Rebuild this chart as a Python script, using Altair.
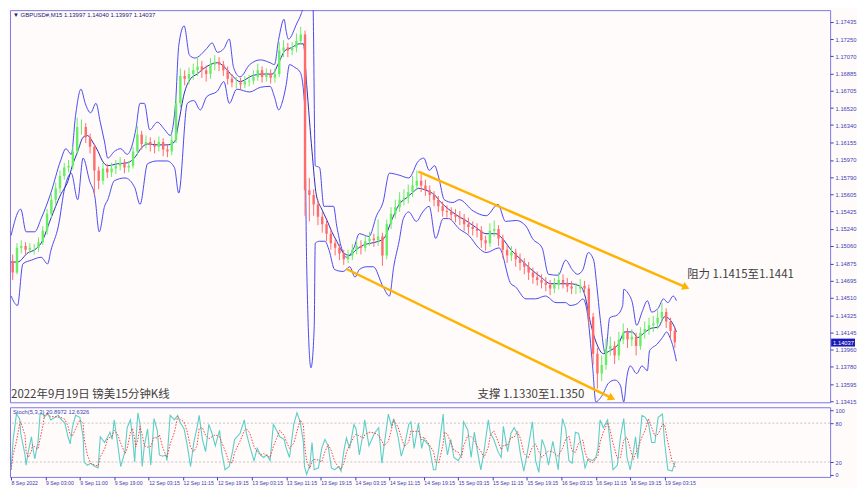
import altair as alt
import pandas as pd

# ---------------- data ----------------
# hourly candles (4 x M15 bars each), GBPUSD
closes = [1.1478,1.1504,1.1506,1.1502,1.1504,1.1504,1.1510,1.1522,1.1540,1.1555,
 1.1567,1.1580,1.1589,1.1591,1.1606,1.1632,1.1632,1.1621,1.1611,1.1586,
 1.1575,1.1588,1.1584,1.1588,1.1591,1.1594,1.1589,1.1591,1.1606,1.1624,
 1.1614,1.1616,1.1613,1.1611,1.1616,1.1608,1.1606,1.1618,1.1657,1.1686,
 1.1683,1.1688,1.1692,1.1696,1.1692,1.1688,1.1698,1.1701,1.1698,1.1692,
 1.1683,1.1679,1.1679,1.1677,1.1680,1.1681,1.1685,1.1692,1.1685,1.1688,
 1.1684,1.1688,1.1713,1.1716,1.1713,1.1716,1.1723,1.1730,1.1565,1.1560,
 1.1550,1.1537,1.1529,1.1519,1.1509,1.1504,1.1498,1.1492,1.1496,1.1502,
 1.1506,1.1504,1.1511,1.1514,1.1512,1.1516,1.1496,1.1529,1.1540,1.1547,
 1.1555,1.1557,1.1563,1.1570,1.1575,1.1570,1.1565,1.1560,1.1555,1.1548,
 1.1543,1.1542,1.1539,1.1537,1.1535,1.1529,1.1526,1.1524,1.1522,1.1512,
 1.1509,1.1522,1.1524,1.1514,1.1502,1.1496,1.1499,1.1492,1.1488,1.1484,
 1.1478,1.1473,1.1470,1.1467,1.1465,1.1461,1.1465,1.1470,1.1467,1.1463,
 1.1461,1.1461,1.1464,1.1461,1.1431,1.1392,1.1371,1.1380,1.1397,1.1400,
 1.1390,1.1407,1.1414,1.1407,1.1410,1.1400,1.1414,1.1418,1.1422,1.1424,
 1.1430,1.1436,1.1426,1.1416,1.1404]
highs = [1.1497,1.1509,1.1512,1.1510,1.1509,1.1508,1.1515,1.1527,1.1545,1.1561,
 1.1573,1.1586,1.1594,1.1597,1.1612,1.1642,1.1640,1.1636,1.1625,1.1614,
 1.1590,1.1594,1.1593,1.1594,1.1597,1.1600,1.1598,1.1596,1.1611,1.1633,
 1.1628,1.1623,1.1621,1.1618,1.1622,1.1620,1.1613,1.1624,1.1664,1.1694,
 1.1692,1.1695,1.1699,1.1706,1.1702,1.1697,1.1705,1.1708,1.1706,1.1702,
 1.1696,1.1688,1.1685,1.1684,1.1686,1.1687,1.1692,1.1699,1.1696,1.1694,
 1.1693,1.1694,1.1722,1.1724,1.1721,1.1722,1.1731,1.1738,1.1734,1.1578,
 1.1566,1.1555,1.1542,1.1533,1.1524,1.1513,1.1508,1.1502,1.1502,1.1508,
 1.1513,1.1512,1.1517,1.1521,1.1519,1.1534,1.1520,1.1534,1.1547,1.1555,
 1.1563,1.1566,1.1571,1.1580,1.1586,1.1582,1.1576,1.1570,1.1564,1.1559,
 1.1553,1.1549,1.1547,1.1545,1.1543,1.1540,1.1536,1.1532,1.1530,1.1527,
 1.1517,1.1530,1.1533,1.1528,1.1518,1.1507,1.1506,1.1503,1.1498,1.1493,
 1.1489,1.1483,1.1479,1.1476,1.1473,1.1470,1.1472,1.1478,1.1476,1.1472,
 1.1469,1.1467,1.1471,1.1469,1.1465,1.1435,1.1398,1.1390,1.1408,1.1410,
 1.1405,1.1415,1.1424,1.1419,1.1418,1.1414,1.1420,1.1426,1.1430,1.1432,
 1.1438,1.1446,1.1440,1.1430,1.1420]
lows = [1.1470,1.1476,1.1498,1.1497,1.1498,1.1497,1.1500,1.1507,1.1518,1.1536,
 1.1550,1.1562,1.1576,1.1584,1.1587,1.1603,1.1624,1.1615,1.1604,1.1560,
 1.1566,1.1571,1.1578,1.1579,1.1582,1.1586,1.1583,1.1584,1.1588,1.1602,
 1.1608,1.1609,1.1606,1.1604,1.1606,1.1601,1.1600,1.1602,1.1615,1.1652,
 1.1676,1.1677,1.1682,1.1686,1.1684,1.1680,1.1683,1.1692,1.1691,1.1686,
 1.1677,1.1674,1.1673,1.1672,1.1673,1.1675,1.1677,1.1681,1.1679,1.1680,
 1.1678,1.1679,1.1685,1.1706,1.1706,1.1708,1.1711,1.1719,1.1538,1.1532,
 1.1538,1.1528,1.1520,1.1511,1.1502,1.1496,1.1491,1.1486,1.1488,1.1491,
 1.1497,1.1497,1.1500,1.1506,1.1505,1.1506,1.1485,1.1492,1.1524,1.1535,
 1.1542,1.1549,1.1551,1.1558,1.1565,1.1563,1.1559,1.1553,1.1548,1.1542,
 1.1537,1.1536,1.1533,1.1531,1.1528,1.1522,1.1519,1.1517,1.1515,1.1504,
 1.1501,1.1505,1.1516,1.1506,1.1493,1.1488,1.1490,1.1484,1.1480,1.1476,
 1.1470,1.1466,1.1464,1.1461,1.1458,1.1454,1.1456,1.1460,1.1461,1.1457,
 1.1455,1.1455,1.1456,1.1455,1.1422,1.1380,1.1355,1.1363,1.1375,1.1390,
 1.1381,1.1385,1.1402,1.1398,1.1400,1.1390,1.1396,1.1408,1.1412,1.1415,
 1.1418,1.1425,1.1419,1.1408,1.1398]
first_open = 1.1490

# Bollinger-style bands: (M15 bar index, price)
upper_bar = [0,9,14,22,28,37,46,51,56,60,65,69,74,79,83,87,90,96,102,108,
 116,120,124,129,136,143,148,153,156,161,166,171,182,187,192,198,203,207,213,222,
 232,241,245,249,254,256,258,266,270,273,277,280,281,283,287,291,300,303,312,319,
 324,333,340,346,352,361,370,379,384,389,394,398,403,411,417,430,442,453,460,470,
 479,485,494,500,509,516,522,527,532,537,542,545,548,553,557,564,569,570,574,578,
 582,587,592,596,602,607,611,616,619]
upper_val = [1.1517,1.1545,1.1521,1.1521,1.1535,1.1562,1.1596,1.1609,1.1603,1.1644,
 1.1672,1.1657,1.1647,1.1657,1.1637,1.1616,1.1599,1.1606,1.1609,1.1603,
 1.1629,1.1657,1.1657,1.1629,1.1637,1.1629,1.1623,1.1657,1.1718,1.1739,
 1.1708,1.1705,1.1715,1.1721,1.1711,1.1715,1.1725,1.1695,1.1685,1.1698,
 1.1703,1.1700,1.1698,1.1725,1.1746,1.1733,1.1725,1.1742,1.1752,1.1764,
 1.1800,1.1780,1.1759,1.1591,1.1589,1.1548,1.1548,1.1527,1.1494,1.1504,
 1.1519,1.1516,1.1538,1.1552,1.1583,1.1581,1.1578,1.1596,1.1599,1.1586,
 1.1591,1.1578,1.1555,1.1552,1.1555,1.1543,1.1538,1.1550,1.1532,1.1533,
 1.1527,1.1514,1.1504,1.1476,1.1475,1.1491,1.1481,1.1476,1.1481,1.1499,
 1.1491,1.1463,1.1430,1.1392,1.1430,1.1433,1.1443,1.1460,1.1456,1.1446,
 1.1422,1.1436,1.1448,1.1436,1.1440,1.1450,1.1446,1.1453,1.1448]
mid_bar = [0,6,16,22,28,37,46,53,57,62,67,71,76,81,85,90,99,108,116,120,
 127,136,145,152,156,161,167,173,182,192,198,206,213,224,233,243,249,255,261,268,
 272,275,280,284,289,294,298,303,309,315,321,328,335,342,347,354,361,368,374,379,
 386,394,400,407,414,423,432,442,451,457,465,474,483,493,502,511,520,530,534,539,
 545,551,557,565,571,578,583,590,596,602,608,615,619]
mid_val = [1.1489,1.1489,1.1499,1.1502,1.1509,1.1535,1.1560,1.1575,1.1591,1.1606,
 1.1621,1.1623,1.1616,1.1606,1.1596,1.1591,1.1593,1.1594,1.1601,1.1608,
 1.1614,1.1613,1.1613,1.1616,1.1637,1.1667,1.1683,1.1688,1.1696,1.1700,
 1.1696,1.1686,1.1680,1.1686,1.1688,1.1688,1.1700,1.1713,1.1716,1.1720,
 1.1720,1.1677,1.1606,1.1560,1.1545,1.1533,1.1522,1.1511,1.1499,1.1496,
 1.1502,1.1507,1.1509,1.1511,1.1514,1.1533,1.1550,1.1557,1.1563,1.1567,
 1.1565,1.1560,1.1552,1.1545,1.1539,1.1533,1.1526,1.1519,1.1519,1.1514,
 1.1502,1.1492,1.1482,1.1473,1.1466,1.1466,1.1466,1.1463,1.1453,1.1425,
 1.1402,1.1392,1.1395,1.1402,1.1415,1.1415,1.1409,1.1415,1.1419,1.1420,
 1.1431,1.1425,1.1415]
low_bar = [0,6,11,19,28,34,37,44,50,56,62,67,73,78,82,87,90,96,106,115,
 120,127,136,145,152,156,164,170,176,182,192,198,203,210,222,232,241,245,249,252,
 256,259,264,269,273,275,279,282,283,287,292,296,301,309,315,320,324,331,337,346,
 352,356,361,365,370,377,383,389,395,402,407,417,426,435,442,454,465,469,479,488,
 497,507,516,520,527,532,536,541,544,550,556,562,567,570,573,576,582,587,592,594,
 601,606,610,613,616,619]
low_val = [1.1453,1.1443,1.1487,1.1491,1.1494,1.1487,1.1501,1.1527,1.1568,1.1583,
 1.1555,1.1599,1.1575,1.1558,1.1521,1.1548,1.1555,1.1575,1.1578,1.1568,
 1.1550,1.1593,1.1596,1.1596,1.1589,1.1562,1.1657,1.1660,1.1650,1.1664,
 1.1670,1.1680,1.1657,1.1672,1.1669,1.1674,1.1675,1.1664,1.1650,1.1657,
 1.1677,1.1698,1.1695,1.1690,1.1657,1.1487,1.1377,1.1419,1.1509,1.1511,
 1.1511,1.1501,1.1481,1.1479,1.1484,1.1473,1.1481,1.1484,1.1484,1.1463,
 1.1453,1.1484,1.1511,1.1535,1.1542,1.1532,1.1542,1.1548,1.1514,1.1535,
 1.1535,1.1524,1.1517,1.1504,1.1499,1.1504,1.1466,1.1463,1.1450,1.1450,
 1.1453,1.1446,1.1446,1.1443,1.1445,1.1450,1.1436,1.1379,1.1341,1.1348,
 1.1361,1.1364,1.1358,1.1341,1.1368,1.1379,1.1371,1.1379,1.1374,1.1395,
 1.1402,1.1409,1.1415,1.1409,1.1399,1.1384]

# Stochastic (5,3,3): M15 bar index, %K, %D
stoch_bar = [0,2,5,8,9,13,14,16,19,20,22,25,27,30,31,34,37,41,44,46,
 50,53,55,57,60,64,67,68,71,74,78,81,83,87,90,92,94,96,99,102,
 106,108,111,113,115,116,118,120,122,124,127,130,133,136,138,141,144,145,148,152,
 155,157,161,164,167,170,173,175,178,181,184,187,190,194,196,199,203,206,208,213,
 217,219,222,226,229,232,235,238,241,244,247,250,254,256,259,263,266,269,272,273,
 275,278,280,282,286,289,292,295,298,301,305,307,310,312,315,319,321,324,328,329,
 333,338,342,345,347,351,354,356,360,363,366,370,372,375,379,382,384,389,393,395,
 398,402,403,406,409,412,416,419,421,425,428,431,434,437,440,444,446,449,453,456,
 458,462,465,468,471,474,477,481,485,488,491,494,497,500,504,507,509,513,516,519,
 522,525,528,532,534,537,541,544,546,548,551,555,557,560,564,567,570,573,576,579,
 581,583,587,590,593,596,599,602,606,608,611,615,618]
stoch_k = [8,55,94,87,64,31,15,36,59,45,
 25,50,94,94,89,96,85,89,92,87,
 80,59,48,73,92,89,59,20,15,18,
 13,11,59,50,59,66,55,85,50,13,
 36,73,85,59,20,50,96,78,13,45,
 71,15,87,69,31,29,31,22,92,85,
 92,82,71,45,13,50,73,92,55,36,
 78,64,45,69,36,8,13,36,55,64,
 85,64,45,22,41,31,27,31,22,78,
 69,59,55,41,27,78,96,82,50,13,
 1,15,50,8,11,41,55,45,11,8,
 13,6,41,57,41,78,71,31,69,85,
 45,64,73,18,45,94,75,87,59,29,
 45,78,82,41,80,41,55,45,8,8,
 41,94,64,31,55,27,22,31,82,69,
 27,66,36,8,36,85,64,55,36,27,
 75,36,64,73,64,31,6,41,82,22,
 4,55,41,15,52,27,8,87,71,22,
 18,66,64,31,11,25,22,27,41,85,
 73,85,55,8,15,59,87,27,8,36,
 59,25,92,89,80,50,50,89,94,50,
 8,6,21]
stoch_d = [8,32,52,79,82,61,37,27,37,47,
 43,40,56,79,92,93,90,90,89,89,
 86,75,62,60,71,85,80,56,31,18,
 15,14,28,40,56,58,60,69,63,49,
 33,41,65,72,55,43,55,75,62,45,
 43,44,58,57,62,43,30,27,48,66,
 90,86,82,66,43,36,45,72,73,61,
 56,59,62,59,50,38,19,19,35,52,
 68,71,65,44,36,31,33,30,27,44,
 56,69,61,52,41,49,67,85,76,48,
 21,10,22,24,23,20,36,47,37,21,
 11,9,20,35,46,59,63,60,57,62,
 66,65,61,52,45,52,71,85,74,58,
 44,51,68,67,68,54,59,47,36,20,
 19,48,66,63,50,38,35,27,45,61,
 59,54,43,37,27,43,62,68,52,39,
 46,46,58,58,67,56,34,26,43,48,
 36,27,33,37,36,31,29,41,55,60,
 37,35,49,54,35,22,19,25,30,51,
 66,81,71,49,26,27,54,58,41,24,
 34,40,59,69,87,73,60,63,78,78,
 51,21,12]

# trend channel (bar index, price)
channel_bar = [379, 628, 312, 559]
channel_price = [1.15846, 1.14622, 1.14816, 1.13449]
channel_id = ["upper", "upper", "lower", "lower"]
arrow_angle = [23.3, 25.9]

price_ticks = [1.17435,1.17250,1.17070,1.16885,1.16705,1.16520,1.16340,1.16155,1.15970,
 1.15790,1.15605,1.15425,1.15240,1.15060,1.14875,1.14695,1.14510,1.14325,1.14145,
 1.13960,1.13780,1.13595,1.13415]
time_labels = ["8 Sep 2022","9 Sep 03:00","9 Sep 11:00","9 Sep 19:00","12 Sep 03:15",
 "12 Sep 11:15","12 Sep 19:15","13 Sep 03:15","13 Sep 11:15","13 Sep 19:15",
 "14 Sep 03:15","14 Sep 11:15","14 Sep 19:15","15 Sep 03:15","15 Sep 11:15",
 "15 Sep 19:15","16 Sep 03:15","16 Sep 11:15","16 Sep 19:15","19 Sep 03:15"]
bars_per_label = 32

header = "▼ GBPUSD#,M15  1.13997 1.14040 1.13997 1.14037"
stoch_header = "Stoch(5,3,3) 20.8972 12.6326"
last_price = 1.14037
notes = ["2022年9月19日 镑美15分钟K线", "支撑 1.1330至1.1350", "阻力 1.1415至1.1441"]
note_bar = [0, 434, 629]
note_price = [1.1348, 1.1348, 1.1475]

# ---------------- styling ----------------
W, H_MAIN, H_STOCH = 824, 394, 70
BULL, BEAR = "#66ee66", "#ff6b6b"
BAND, MID = "#4a4aee", "#2c2cb8"
GOLD = "#FFB300"
AXC = "#3c3cb4"
SMALL = "Liberation Sans"
CJK = "Noto Sans CJK SC"

xscale = alt.Scale(domain=[-1, 762], nice=False, zero=False)
yscale = alt.Scale(domain=[1.13405, 1.17557], nice=False, zero=False)
sscale = alt.Scale(domain=[-3, 104.5], nice=False, zero=False)

yaxis = alt.Axis(orient="right", values=price_ticks, format=".5f", title=None, grid=False,
                 domain=False, tickSize=3, tickColor=AXC, labelColor=AXC,
                 labelFont=SMALL, labelFontSize=5.8, labelPadding=2, labelAlign="left")


def X(f):
    return alt.X(f + ":Q", scale=xscale, axis=None)


def Y(f):
    return alt.Y(f + ":Q", scale=yscale, axis=yaxis, title=None)


# ---------------- tables ----------------
opens = [first_open] + closes[:-1]
candles = pd.DataFrame({
    "bar": [4 * k + 1.5 for k in range(len(closes))],
    "open": opens, "close": closes, "high": highs, "low": lows,
})
candles["dir"] = ["up" if c >= o else "down" for o, c in zip(opens, closes)]
ccol = alt.Color("dir:N", scale=alt.Scale(domain=["up", "down"], range=[BULL, BEAR]), legend=None)

bands = pd.concat([
    pd.DataFrame({"bar": upper_bar, "v": upper_val, "band": "upper"}),
    pd.DataFrame({"bar": low_bar, "v": low_val, "band": "lower"}),
])
mid = pd.DataFrame({"bar": mid_bar, "v": mid_val})
channel = pd.DataFrame({"bar": channel_bar, "p": channel_price, "line": channel_id})
arrows = channel.iloc[[1, 3]].copy()
arrows["ang"] = arrow_angle
notes_df = pd.DataFrame({"bar": note_bar, "p": note_price, "t": notes})
lastp = pd.DataFrame({"p": [last_price], "lo": [last_price - 0.00042],
                      "hi": [last_price + 0.00042], "t": [f"{last_price:.5f}"]})
head_df = pd.DataFrame({"t": [header]})

wicks = alt.Chart(candles).mark_rule(strokeWidth=1, clip=True).encode(
    x=X("bar"), y=Y("low"), y2="high", color=ccol)
bodies = alt.Chart(candles).mark_rule(strokeWidth=2.4, clip=True).encode(
    x=X("bar"), y=Y("open"), y2="close", color=ccol)
band_lines = alt.Chart(bands).mark_line(color=BAND, strokeWidth=1, interpolate="monotone",
                                        clip=True).encode(x=X("bar"), y=Y("v"), detail="band:N")
mid_line = alt.Chart(mid).mark_line(color=MID, strokeWidth=1, interpolate="monotone",
                                    clip=True).encode(x=X("bar"), y=Y("v"))
chan = alt.Chart(channel).mark_line(color=GOLD, strokeWidth=2.5).encode(
    x=X("bar"), y=Y("p"), detail="line:N")
arrow_heads = alt.Chart(arrows).mark_point(shape="triangle-right", filled=True, size=70,
                                           color=GOLD, opacity=1).encode(
    x=X("bar"), y=Y("p"), angle=alt.Angle("ang:Q", scale=None))
note_text = alt.Chart(notes_df).mark_text(align="left", baseline="middle", font=CJK,
                                          fontSize=11.5, color="#404040").encode(
    x=X("bar"), y=Y("p"), text="t:N")
price_box = alt.Chart(lastp).mark_rect(color="#1a1ab4").encode(
    x=alt.value(W + 1), x2=alt.value(W + 25), y=Y("lo"), y2="hi")
price_txt = alt.Chart(lastp).mark_text(align="left", baseline="middle", font=SMALL,
                                       fontSize=5.8, color="white").encode(
    x=alt.value(W + 3), y=Y("p"), text="t:N")
head = alt.Chart(head_df).mark_text(align="left", baseline="middle", font=SMALL,
                                    fontSize=6, color="#1a1a80").encode(
    x=alt.value(3), y=alt.value(5), text="t:N")

main = alt.layer(band_lines, mid_line, wicks, bodies, chan, arrow_heads, note_text,
                 price_box, price_txt, head).properties(width=W, height=H_MAIN)

# ---------------- stochastic ----------------
stoch = pd.DataFrame({"bar": stoch_bar, "k": stoch_k, "d": stoch_d})
levels = pd.DataFrame({"lvl": [20, 80]})
label_expr = "[" + ",".join("'" + s + "'" for s in time_labels) + "][round(datum.value/%d)]" % bars_per_label
xaxis = alt.Axis(values=[bars_per_label * i for i in range(len(time_labels))], labelExpr=label_expr,
                 title=None, grid=False, domain=False, tickSize=3, tickColor=AXC,
                 labelColor=AXC, labelFont=SMALL, labelFontSize=5.2, labelAlign="left",
                 labelPadding=1, labelOverlap=False, labelFlush=False)
saxis = alt.Axis(orient="right", values=[0, 20, 80, 100], title=None, grid=False, domain=False,
                 tickSize=3, tickColor=AXC, labelColor=AXC, labelFont=SMALL, labelFontSize=5.5,
                 labelPadding=2, labelAlign="left")


def SX(f):
    return alt.X(f + ":Q", scale=xscale, axis=xaxis, title=None)


def SY(f):
    return alt.Y(f + ":Q", scale=sscale, axis=saxis, title=None)


lvl = alt.Chart(levels).mark_rule(color="#c4c4c4", strokeDash=[2, 2], strokeWidth=1).encode(y=SY("lvl"))
kline = alt.Chart(stoch).mark_line(color="#5ccfc6", strokeWidth=1.1).encode(x=SX("bar"), y=SY("k"))
dline = alt.Chart(stoch).mark_line(color="#ff3c3c", strokeWidth=1, strokeDash=[1.5, 1.5]).encode(
    x=SX("bar"), y=SY("d"))
shead = alt.Chart(pd.DataFrame({"t": [stoch_header]})).mark_text(
    align="left", baseline="middle", font=SMALL, fontSize=5.8, color=AXC).encode(
    x=alt.value(3), y=alt.value(5), text="t:N")
stoch_chart = alt.layer(lvl, kline, dline, shead).properties(width=W, height=H_STOCH)

chart = alt.vconcat(main, stoch_chart, spacing=1).properties(
    padding={"left": 0, "top": 0, "right": 0, "bottom": 0},
    background="#fffbfb",
).configure_view(stroke="#7a7ae6", strokeWidth=1)

chart.save("out.html", embed_options={"renderer": "svg", "actions": False})
